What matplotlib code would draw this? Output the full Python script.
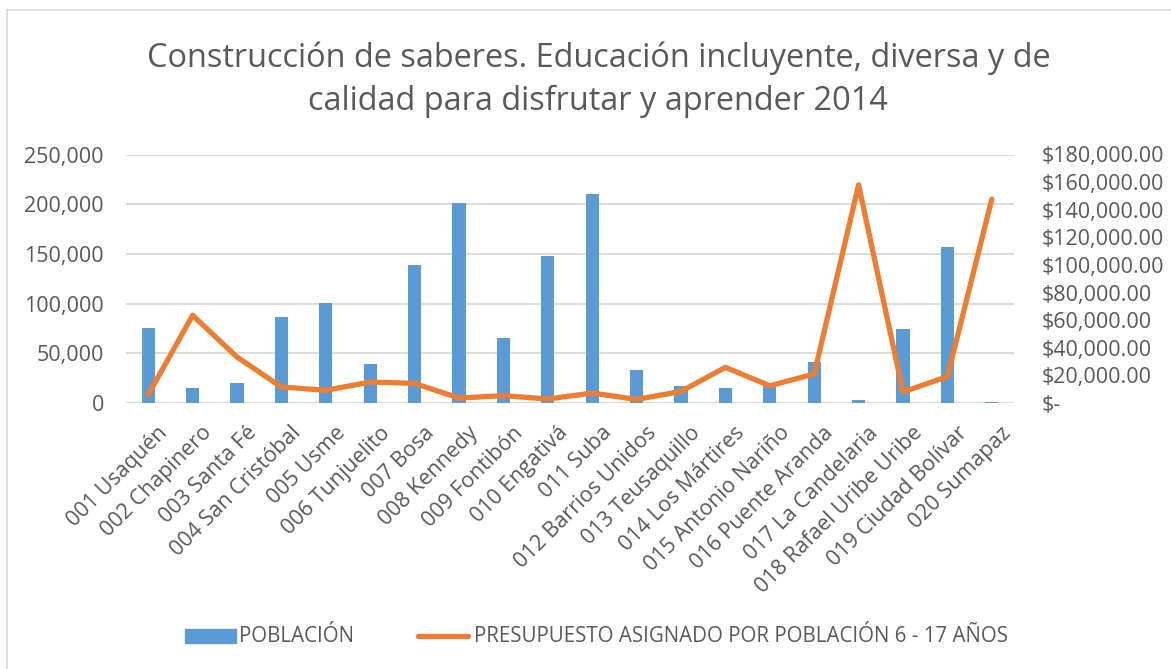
import matplotlib
matplotlib.use("Agg")
import matplotlib.pyplot as plt
from matplotlib.patches import Rectangle
from matplotlib.ticker import FuncFormatter, MultipleLocator
import numpy as np

localidades = [
    "001 Usaquén", "002 Chapinero", "003 Santa Fé", "004 San Cristóbal",
    "005 Usme", "006 Tunjuelito", "007 Bosa", "008 Kennedy",
    "009 Fontibón", "010 Engativá", "011 Suba", "012 Barrios Unidos",
    "013 Teusaquillo", "014 Los Mártires", "015 Antonio Nariño",
    "016 Puente Aranda", "017 La Candelaria", "018 Rafael Uribe Uribe",
    "019 Ciudad Bolívar", "020 Sumapaz",
]
poblacion = [
    75400, 15100, 19800, 86800, 100900, 38900, 138400, 201400,
    65400, 147800, 210500, 33500, 17400, 15400, 17800,
    41200, 3300, 74700, 156800, 1000,
]
presupuesto = [
    6000, 63500, 33300, 11600, 9200, 15200, 14200, 3600,
    5300, 2900, 7200, 2600, 8400, 25800, 12500,
    21000, 158000, 8000, 19100, 147700,
]

title = "Construcción de saberes. Educación incluyente, diversa y de\ncalidad para disfrutar y aprender 2014"
label_bar = "POBLACIÓN"
label_line = "PRESUPUESTO ASIGNADO POR POBLACIÓN 6 - 17 AÑOS"

BLUE = "#5B9BD5"
ORANGE = "#ED7D31"
GRID = "#D9D9D9"
TEXT = "#595959"

plt.rcParams["font.family"] = ["Open Sans", "DejaVu Sans"]

W, H = 1171, 669
fig = plt.figure(figsize=(W / 100, H / 100), dpi=100)
fig.patch.set_facecolor("white")

# chart frame
fig.patches.append(Rectangle((7 / W, -0.05), 1.2, 1.05 - 10 / H,
                             transform=fig.transFigure, fill=False,
                             edgecolor=GRID, linewidth=1.2))

left, right = 126 / W, 1014 / W
bottom, top = 1 - 403 / H, 1 - 154.5 / H
ax = fig.add_axes([left, bottom, right - left, top - bottom])
ax2 = ax.twinx()

x = np.arange(len(localidades))
ax.bar(x, poblacion, width=0.3, color=BLUE, zorder=2)
ax2.plot(x, presupuesto, color=ORANGE, linewidth=3.8,
         solid_capstyle="round", solid_joinstyle="round", zorder=3)

ax.set_xlim(-0.5, len(localidades) - 0.5)
ax.set_ylim(0, 250000)
ax2.set_ylim(0, 180000)

ax.yaxis.set_major_locator(MultipleLocator(50000))
ax.yaxis.set_major_formatter(FuncFormatter(lambda v, p: f"{int(v):,}"))
ax.grid(axis="y", color=GRID, linewidth=1.3, zorder=0)
ax.set_axisbelow(True)

ax2.yaxis.set_major_locator(MultipleLocator(20000))
ax2.yaxis.set_major_formatter(
    FuncFormatter(lambda v, p: "$-" if v == 0 else f"${v:,.2f}"))

for a in (ax, ax2):
    for s in a.spines.values():
        s.set_visible(False)
    a.tick_params(length=0, colors=TEXT, labelsize=15.5)

ax.tick_params(axis="y", pad=16)
ax2.tick_params(axis="y", pad=20)

ax.set_xticks(x)
ax.set_xticklabels(localidades, rotation=45, ha="right", va="top",
                   rotation_mode="anchor", fontsize=15.5, color=TEXT)
ax.tick_params(axis="x", pad=14)
# nudge the rotated labels so their ends sit just right of each bar
from matplotlib.transforms import ScaledTranslation
for lbl in ax.get_xticklabels():
    lbl.set_transform(lbl.get_transform() + ScaledTranslation(0.09, 0, fig.dpi_scale_trans))

fig.text(0.511, 1 - 80 / H, title, ha="center", va="center",
         fontsize=23.4, color=TEXT, linespacing=1.38)

# legend
fig.patches.append(Rectangle((185 / W, 1 - 643 / H), 51 / W, 14 / H,
                             transform=fig.transFigure, color=BLUE))
fig.text(239 / W, 1 - 636 / H, label_bar, ha="left", va="center",
         fontsize=14.8, color=TEXT)
fig.lines.append(plt.Line2D([418 / W, 468 / W], [1 - 636 / H, 1 - 636 / H],
                            transform=fig.transFigure, color=ORANGE,
                            linewidth=3.8, solid_capstyle="round"))
fig.text(474 / W, 1 - 636 / H, label_line, ha="left", va="center",
         fontsize=14.8, color=TEXT)

fig.savefig("out.png", dpi=100)
